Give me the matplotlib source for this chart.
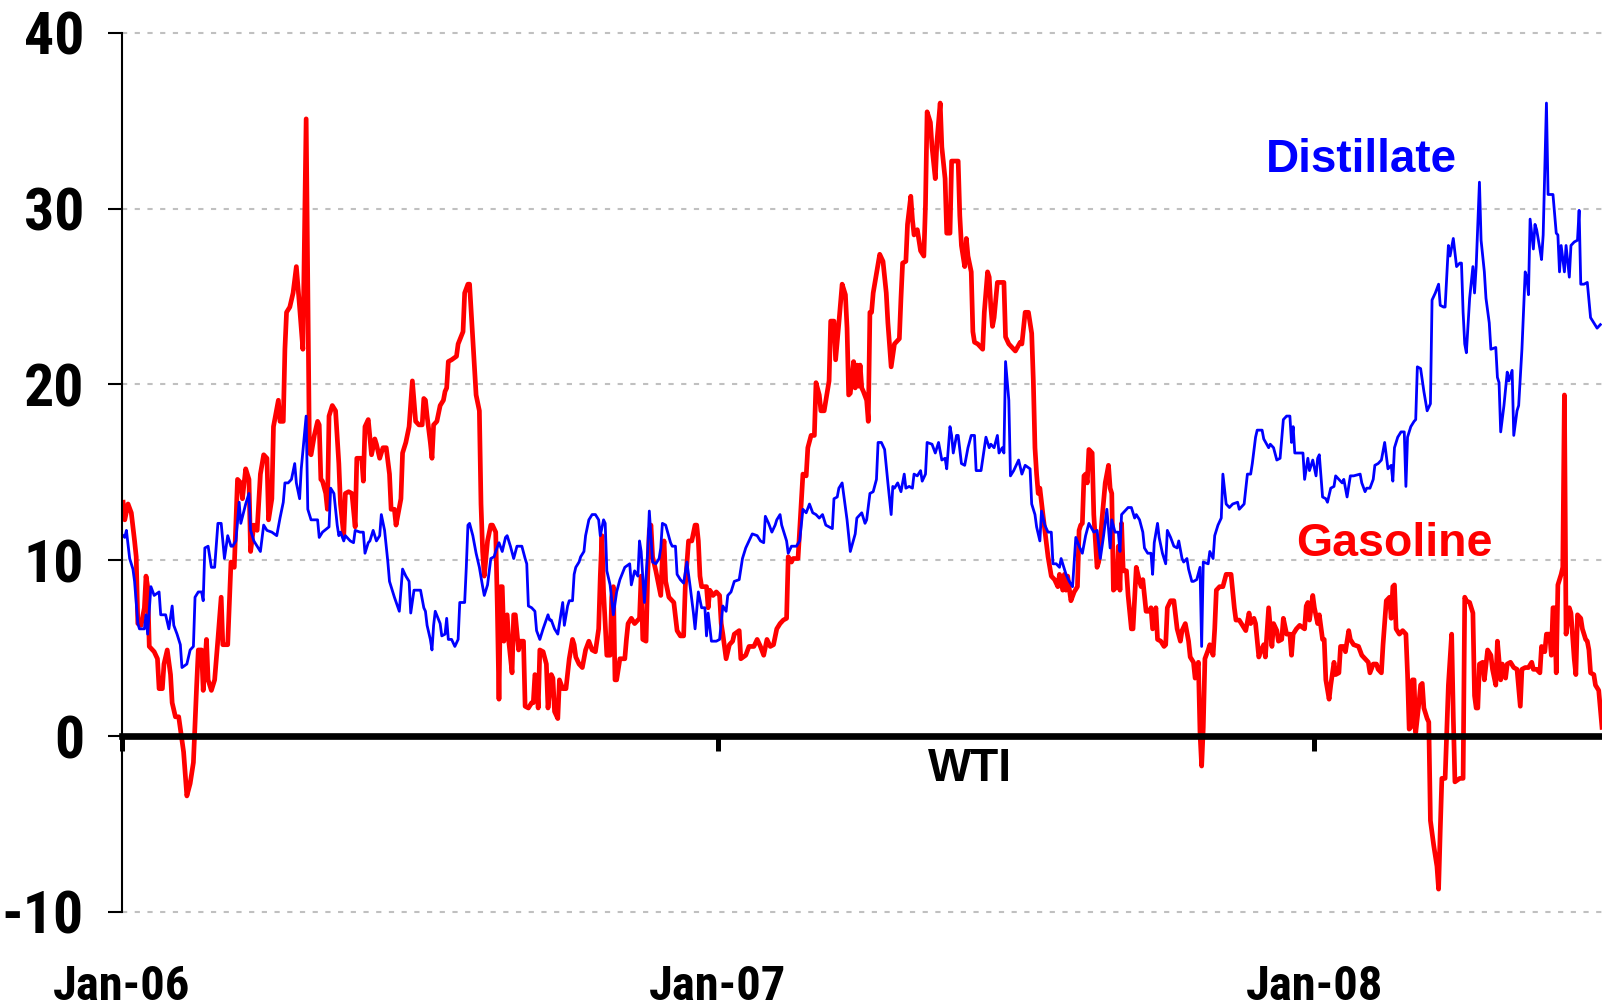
import numpy as np
import pandas as pd
import matplotlib
matplotlib.use('Agg')
import matplotlib.pyplot as plt
from matplotlib import font_manager

START = pd.Timestamp('2006-01-01')
LAST_DAY = 906  # right edge of the plot, days after START

# (days after 1 Jan 2006, spread in $/bbl over WTI)
gasoline = [
    (1, 13.3), (2, 12.3), (4, 13.2), (6, 12.7), (8, 11.1), (9, 10.2), (10, 6.4), (12, 6.3), (14, 7.3), (15, 9.1),
    (16, 8.5), (17, 5.1), (20, 4.8), (22, 4.4), (23, 2.7), (25, 2.7), (26, 4.1), (28, 4.9), (30, 3.5), (31, 1.9),
    (33, 1.1), (35, 1.1), (38, -0.9), (40, -3.4), (42, -2.7), (44, -1.5), (46, 2.9), (47, 4.9), (49, 4.9), (50, 2.6),
    (52, 5.5), (53, 3.2), (55, 2.6), (57, 3.2), (59, 5.5), (61, 7.9), (62, 5.2), (65, 5.2), (67, 9.9), (69, 9.6),
    (71, 14.6), (73, 14.4), (74, 13.5), (76, 15.2), (78, 14.6), (79, 10.5), (81, 12.0), (83, 11.7), (85, 14.9), (87, 16.0),
    (89, 15.8), (90, 12.3), (92, 13.5), (93, 17.6), (96, 19.1), (97, 17.9), (99, 17.9), (100, 22.0), (101, 24.1), (103, 24.4),
    (105, 25.2), (107, 26.7), (109, 24.4), (111, 22.0), (113, 35.1), (115, 16.1), (116, 16.0), (118, 17.1), (120, 17.9), (121, 17.7),
    (122, 14.6), (123, 14.5), (125, 13.8), (126, 12.9), (127, 18.2), (129, 18.8), (131, 18.5), (133, 15.5), (134, 13.2), (136, 11.4),
    (137, 13.8), (139, 13.9), (141, 13.8), (143, 11.9), (144, 15.8), (147, 15.8), (148, 14.5), (149, 17.6), (151, 18.0), (153, 16.0),
    (155, 16.9), (156, 16.6), (158, 15.8), (160, 16.4), (162, 16.4), (164, 14.9), (165, 12.9), (167, 12.9), (168, 12.0), (171, 13.5),
    (172, 16.1), (174, 16.7), (176, 17.6), (178, 20.2), (180, 17.9), (182, 17.7), (184, 17.7), (185, 19.2), (186, 19.1), (187, 18.2),
    (189, 16.7), (190, 15.8), (191, 17.7), (193, 17.9), (195, 18.8), (197, 19.1), (198, 19.6), (199, 19.8), (200, 21.3), (202, 21.4),
    (205, 21.6), (206, 22.3), (209, 23.0), (210, 25.2), (212, 25.7), (213, 25.7), (215, 22.6), (217, 19.4), (219, 18.5), (220, 13.2),
    (221, 10.5), (222, 9.1), (224, 11.1), (226, 12.0), (227, 12.0), (229, 11.6), (230, 7.3), (231, 2.1), (232, 8.5), (233, 8.5),
    (234, 5.4), (236, 6.9), (237, 5.4), (239, 3.6), (240, 6.9), (241, 6.9), (243, 4.9), (244, 5.4), (246, 5.4), (247, 1.7),
    (249, 1.6), (251, 1.9), (252, 1.9), (253, 3.5), (254, 3.3), (255, 1.6), (256, 4.9), (258, 4.8), (260, 4.1), (261, 1.6),
    (263, 3.5), (264, 3.3), (265, 1.4), (267, 1.0), (268, 3.2), (270, 2.7), (272, 2.7), (274, 4.4), (276, 5.5), (277, 5.2),
    (278, 4.5), (280, 4.1), (282, 3.9), (284, 4.9), (286, 5.4), (288, 4.9), (290, 4.8), (292, 6.1), (293, 9.1), (294, 11.4),
    (295, 8.2), (296, 6.4), (297, 4.6), (299, 4.6), (300, 7.9), (301, 8.5), (302, 3.2), (303, 3.2), (305, 4.4), (308, 4.4),
    (309, 5.5), (310, 6.4), (312, 6.7), (314, 6.4), (316, 6.6), (317, 6.7), (318, 9.1), (319, 5.5), (321, 5.4), (322, 9.1),
    (323, 11.7), (324, 12.0), (325, 10.2), (327, 9.4), (330, 8.0), (331, 10.2), (332, 11.1), (333, 8.8), (335, 7.9), (338, 7.6),
    (340, 6.0), (342, 5.7), (344, 5.7), (345, 8.5), (347, 11.1), (349, 11.1), (351, 12.0), (352, 12.0), (353, 11.1), (354, 9.1),
    (355, 8.5), (358, 8.5), (359, 7.3), (360, 8.3), (362, 8.0), (364, 8.2), (366, 8.0), (367, 6.4), (368, 5.8), (370, 4.4),
    (372, 5.2), (374, 5.4), (375, 5.8), (378, 6.0), (379, 4.4), (382, 4.6), (384, 5.1), (387, 5.1), (389, 5.5), (391, 5.1),
    (393, 4.6), (395, 5.5), (397, 5.1), (399, 5.2), (401, 6.1), (403, 6.4), (405, 6.6), (407, 6.7), (408, 10.2), (410, 9.9),
    (411, 10.1), (414, 10.1), (415, 11.7), (417, 14.9), (419, 14.8), (420, 16.4), (422, 17.1), (424, 17.1), (425, 20.1), (427, 19.4),
    (428, 18.5), (430, 18.5), (433, 20.2), (434, 23.6), (436, 23.6), (437, 21.4), (439, 23.5), (441, 25.7), (443, 25.1), (444, 23.2),
    (445, 19.4), (446, 19.5), (448, 21.3), (449, 19.8), (450, 21.1), (451, 19.9), (452, 21.1), (453, 19.8), (454, 19.6), (456, 19.1),
    (457, 17.9), (458, 24.1), (459, 24.1), (460, 25.2), (462, 26.3), (464, 27.4), (466, 27.0), (468, 25.2), (469, 23.5), (471, 21.0),
    (473, 22.3), (476, 22.6), (477, 24.9), (478, 26.9), (480, 27.0), (481, 29.1), (483, 30.7), (484, 29.4), (485, 28.5), (487, 28.8),
    (489, 27.6), (491, 27.3), (492, 30.2), (493, 35.5), (495, 34.9), (496, 33.5), (498, 31.7), (499, 33.8), (501, 36.0), (502, 33.5),
    (504, 31.7), (505, 28.6), (507, 28.6), (508, 32.7), (512, 32.7), (513, 29.6), (514, 27.9), (516, 26.7), (517, 28.3), (518, 27.3),
    (520, 26.4), (521, 23.0), (522, 22.4), (524, 22.3), (527, 22.0), (528, 24.1), (530, 26.4), (531, 26.1), (532, 24.4), (533, 23.3),
    (534, 23.8), (536, 25.8), (540, 25.8), (541, 22.7), (543, 22.3), (545, 22.1), (547, 21.9), (550, 22.4), (551, 22.3), (553, 24.1),
    (555, 24.1), (557, 22.9), (558, 20.2), (559, 16.4), (560, 14.9), (561, 13.8), (562, 14.1), (564, 12.5), (567, 10.2), (569, 9.1),
    (571, 8.9), (573, 8.5), (574, 9.2), (576, 8.3), (577, 9.2), (578, 8.3), (579, 9.1), (581, 7.7), (583, 8.2), (585, 8.5),
    (586, 11.7), (587, 12.0), (588, 12.1), (589, 14.8), (590, 14.9), (591, 14.4), (592, 16.3), (594, 16.1), (595, 12.6), (597, 9.6),
    (598, 9.9), (600, 12.3), (602, 14.4), (604, 15.4), (605, 14.1), (606, 13.8), (607, 8.3), (609, 8.5), (610, 10.8), (611, 8.3),
    (612, 12.1), (613, 9.4), (615, 9.4), (616, 8.0), (618, 6.1), (619, 6.1), (621, 9.6), (623, 8.8), (624, 8.5), (625, 8.9),
    (627, 7.1), (629, 7.1), (630, 7.3), (631, 6.1), (633, 7.3), (634, 5.5), (636, 5.4), (638, 5.1), (639, 5.2), (640, 7.3),
    (642, 7.7), (644, 7.7), (646, 6.1), (648, 5.4), (649, 6.0), (651, 6.4), (653, 5.4), (654, 4.5), (656, 4.2), (657, 3.3),
    (659, 4.2), (660, 0.2), (661, -1.7), (662, 0.5), (663, 4.4), (665, 4.9), (666, 5.2), (668, 4.6), (669, 6.1), (670, 8.3),
    (672, 8.5), (674, 8.5), (676, 9.2), (679, 9.2), (681, 7.3), (682, 6.6), (684, 6.6), (686, 6.3), (688, 6.0), (690, 7.0),
    (691, 6.4), (693, 6.7), (694, 6.4), (696, 4.5), (697, 4.8), (699, 5.2), (700, 4.5), (702, 7.3), (704, 5.1), (705, 6.4),
    (707, 6.0), (708, 5.4), (710, 5.5), (711, 6.7), (713, 5.8), (715, 5.8), (716, 4.6), (717, 5.8), (719, 6.1), (721, 6.3),
    (724, 6.1), (725, 7.4), (726, 7.6), (727, 6.6), (729, 8.0), (730, 7.3), (732, 6.4), (733, 6.9), (735, 5.5), (736, 5.5),
    (737, 3.2), (739, 2.1), (740, 2.9), (742, 4.2), (743, 3.5), (745, 3.6), (746, 5.1), (748, 5.1), (749, 4.8), (751, 6.0),
    (752, 5.5), (754, 5.2), (757, 5.1), (759, 4.6), (761, 4.4), (763, 4.2), (764, 3.6), (766, 4.1), (768, 4.1), (769, 3.8),
    (771, 3.6), (772, 5.2), (774, 7.7), (776, 7.9), (777, 6.7), (778, 8.5), (779, 8.6), (780, 6.1), (782, 5.8), (784, 6.0),
    (786, 5.8), (787, 3.5), (788, 0.4), (789, 0.5), (790, 3.2), (791, 3.2), (792, 0.2), (794, 1.9), (795, 2.9), (796, 3.0),
    (797, 1.6), (799, 1.0), (800, 0.8), (801, -4.8), (803, -6.2), (805, -7.4), (806, -8.7), (807, -5.4), (808, -2.4), (810, -2.4),
    (811, 0.2), (812, 2.9), (814, 5.8), (815, 1.1), (816, -2.6), (819, -2.4), (821, -2.4), (822, 7.9), (823, 7.7), (825, 7.6),
    (827, 7.0), (828, 2.3), (829, 1.6), (830, 1.6), (831, 4.1), (833, 4.2), (834, 3.2), (836, 4.9), (838, 4.6), (839, 3.8),
    (841, 2.9), (842, 5.4), (844, 3.2), (845, 4.1), (847, 3.3), (848, 4.1), (850, 4.2), (852, 3.9), (854, 3.8), (856, 1.7),
    (857, 3.8), (859, 3.9), (861, 3.9), (863, 4.2), (864, 3.8), (866, 3.8), (868, 3.6), (869, 5.1), (871, 4.8), (872, 5.8),
    (874, 5.8), (875, 4.6), (876, 7.3), (877, 7.3), (878, 3.6), (879, 8.6), (880, 8.9), (881, 9.2), (882, 9.6), (883, 19.4),
    (884, 5.8), (886, 7.3), (887, 7.0), (889, 4.4), (890, 3.5), (891, 6.9), (893, 6.7), (894, 6.1), (896, 5.5), (897, 5.4),
    (898, 4.9), (899, 3.6), (901, 3.5), (902, 2.9), (904, 2.6), (906, 0.5),
]

distillate = [
    (1, 11.4), (2, 11.3), (3, 11.7), (5, 10.1), (7, 9.5), (8, 8.8), (10, 6.4), (11, 6.1), (14, 6.1), (15, 6.9),
    (16, 5.8), (18, 8.5), (20, 8.0), (23, 8.2), (24, 6.9), (27, 6.9), (29, 6.1), (31, 7.4), (32, 6.3), (34, 5.8),
    (36, 5.2), (37, 3.9), (40, 4.1), (42, 4.9), (44, 5.1), (45, 7.9), (47, 8.2), (49, 8.2), (50, 7.7), (51, 10.7),
    (53, 10.8), (55, 9.6), (57, 9.6), (59, 12.1), (61, 12.1), (62, 11.1), (63, 10.1), (65, 11.4), (67, 10.8), (68, 10.8),
    (70, 11.1), (72, 13.3), (73, 12.1), (76, 13.2), (78, 13.8), (79, 11.7), (81, 11.1), (83, 10.8), (85, 10.5), (87, 12.0),
    (89, 11.7), (92, 11.6), (95, 11.4), (97, 12.4), (99, 13.3), (100, 14.4), (102, 14.4), (104, 14.6), (106, 15.5), (107, 14.4),
    (109, 13.5), (110, 15.2), (113, 18.2), (114, 12.9), (116, 12.3), (120, 12.3), (121, 11.3), (123, 11.6), (127, 11.9), (128, 14.1),
    (130, 13.8), (132, 12.0), (133, 11.4), (134, 11.6), (136, 11.1), (137, 11.4), (140, 11.1), (142, 11.0), (143, 11.7), (146, 11.6),
    (148, 11.6), (149, 10.4), (151, 11.0), (152, 11.1), (154, 11.7), (156, 11.1), (158, 11.4), (159, 12.6), (161, 11.7), (162, 10.8),
    (163, 9.9), (164, 8.8), (167, 7.9), (170, 7.1), (172, 9.5), (174, 9.1), (176, 8.8), (177, 7.0), (179, 8.3), (183, 8.3),
    (185, 7.3), (186, 7.1), (187, 6.3), (189, 5.5), (190, 4.9), (191, 6.3), (192, 7.1), (195, 6.4), (196, 5.7), (198, 5.8),
    (199, 6.7), (200, 5.5), (202, 5.5), (204, 5.1), (206, 5.5), (207, 7.6), (210, 7.6), (211, 9.6), (212, 12.0), (213, 12.1),
    (215, 11.4), (217, 10.4), (219, 9.6), (221, 8.5), (222, 8.0), (224, 8.6), (226, 10.1), (228, 10.2), (229, 10.5), (231, 11.0),
    (233, 10.5), (235, 11.3), (236, 11.4), (238, 10.8), (240, 10.1), (242, 10.8), (245, 10.8), (247, 10.1), (248, 9.8), (249, 7.4),
    (251, 7.3), (253, 7.1), (254, 6.0), (256, 5.5), (258, 6.1), (261, 6.9), (262, 6.6), (263, 6.6), (265, 6.1), (267, 5.8),
    (269, 7.0), (270, 7.6), (271, 6.3), (273, 7.4), (274, 7.7), (276, 7.7), (277, 9.2), (278, 9.6), (280, 9.9), (281, 10.2),
    (283, 10.5), (284, 11.4), (286, 12.3), (288, 12.6), (290, 12.6), (292, 12.3), (293, 11.4), (295, 12.3), (296, 12.1), (297, 9.4),
    (299, 8.6), (301, 6.9), (303, 8.2), (305, 8.9), (308, 9.6), (311, 9.8), (312, 8.6), (314, 9.4), (316, 9.1), (317, 11.1),
    (318, 10.5), (320, 7.6), (322, 10.5), (323, 12.8), (325, 9.9), (327, 9.8), (329, 10.1), (330, 10.7), (331, 12.1), (333, 12.0),
    (336, 11.0), (337, 10.8), (339, 10.8), (340, 9.2), (342, 8.9), (344, 8.7), (346, 9.9), (348, 8.5), (350, 7.0), (351, 6.1),
    (353, 8.2), (355, 7.3), (357, 7.3), (358, 5.7), (359, 7.0), (361, 5.4), (364, 5.4), (366, 5.5), (368, 7.4), (370, 7.1),
    (371, 8.0), (373, 8.2), (375, 8.8), (378, 8.9), (380, 10.1), (382, 10.7), (384, 11.1), (386, 11.5), (389, 11.4), (391, 11.1),
    (393, 11.0), (394, 12.5), (396, 12.1), (398, 11.6), (400, 12.0), (401, 12.3), (403, 12.6), (404, 12.0), (407, 11.1), (408, 10.4),
    (410, 10.8), (413, 10.8), (415, 11.1), (417, 12.9), (419, 12.7), (421, 13.2), (423, 12.7), (425, 12.6), (427, 12.4), (429, 12.6),
    (431, 12.0), (433, 11.9), (435, 11.8), (436, 13.5), (438, 13.6), (439, 14.1), (441, 14.4), (444, 12.3), (446, 10.5), (449, 11.5),
    (450, 12.4), (453, 12.7), (455, 12.1), (456, 12.3), (458, 13.8), (460, 13.9), (462, 14.6), (463, 16.7), (465, 16.7), (467, 16.3),
    (469, 14.4), (471, 12.6), (472, 14.2), (473, 14.1), (475, 14.4), (477, 13.9), (479, 14.9), (480, 14.1), (482, 14.2), (484, 14.1),
    (485, 14.9), (487, 14.8), (489, 15.1), (490, 14.5), (492, 14.9), (493, 16.7), (496, 16.6), (498, 16.1), (500, 16.7), (502, 15.7),
    (504, 15.8), (505, 15.2), (507, 17.6), (508, 17.1), (509, 16.1), (511, 17.1), (512, 17.1), (514, 15.5), (516, 15.4), (518, 16.4),
    (520, 17.1), (522, 17.1), (523, 15.1), (526, 15.1), (529, 17.0), (531, 16.4), (532, 16.6), (534, 16.4), (536, 17.1), (537, 16.1),
    (539, 16.4), (540, 16.1), (541, 21.3), (543, 19.1), (544, 14.8), (546, 15.1), (548, 15.5), (549, 15.7), (551, 14.9), (553, 15.4),
    (556, 15.2), (557, 13.2), (559, 12.6), (560, 11.9), (562, 11.1), (563, 12.8), (565, 12.0), (567, 11.6), (569, 11.6), (570, 9.8),
    (572, 9.8), (574, 9.6), (575, 10.1), (577, 9.5), (578, 9.2), (580, 8.8), (582, 8.5), (584, 11.3), (586, 10.8), (588, 10.4),
    (590, 11.4), (592, 12.1), (595, 11.6), (597, 11.7), (599, 10.1), (601, 11.4), (603, 12.9), (605, 10.7), (606, 12.3), (608, 11.6),
    (610, 11.6), (611, 10.5), (612, 12.6), (614, 12.8), (616, 13.0), (618, 13.0), (620, 12.4), (621, 12.6), (623, 12.3), (625, 11.6),
    (626, 10.7), (628, 10.4), (630, 10.4), (631, 9.2), (632, 11.0), (634, 12.1), (635, 11.3), (637, 10.4), (639, 9.8), (640, 11.7),
    (642, 11.3), (644, 10.8), (646, 10.7), (647, 11.1), (649, 10.1), (650, 9.9), (652, 10.1), (653, 9.5), (655, 8.8), (656, 8.8),
    (658, 8.9), (660, 9.6), (661, 5.1), (662, 9.9), (665, 9.8), (666, 10.5), (668, 10.1), (669, 11.4), (671, 12.0), (673, 12.4),
    (674, 14.9), (676, 13.2), (678, 13.0), (680, 13.2), (683, 13.3), (684, 12.9), (687, 13.2), (689, 14.9), (691, 14.9), (692, 15.5),
    (694, 17.0), (695, 17.4), (698, 17.4), (699, 16.9), (702, 16.4), (703, 16.6), (705, 16.4), (707, 15.7), (709, 15.8), (711, 18.0),
    (713, 18.2), (715, 18.2), (716, 16.7), (717, 17.6), (718, 16.1), (720, 16.1), (723, 16.1), (724, 14.6), (726, 15.8), (727, 15.1),
    (729, 15.7), (731, 14.8), (732, 15.8), (733, 16.0), (735, 13.6), (737, 13.5), (738, 13.3), (740, 14.1), (742, 14.2), (743, 14.8),
    (745, 14.6), (747, 14.4), (748, 14.6), (750, 13.6), (752, 14.8), (754, 14.8), (758, 14.9), (759, 14.4), (761, 13.9), (762, 14.1),
    (764, 14.1), (766, 14.6), (767, 15.4), (769, 15.5), (771, 15.7), (773, 16.7), (775, 15.2), (777, 15.4), (778, 14.5), (779, 16.4),
    (781, 17.0), (783, 17.3), (785, 17.3), (786, 14.2), (787, 17.0), (789, 17.6), (791, 17.9), (792, 18.0), (793, 21.0), (795, 20.9),
    (797, 19.6), (799, 18.5), (801, 18.9), (802, 24.8), (804, 25.2), (806, 25.7), (807, 24.5), (809, 24.4), (810, 24.4), (812, 27.9),
    (813, 27.3), (815, 28.3), (817, 26.7), (819, 26.9), (820, 26.9), (821, 24.1), (822, 22.3), (823, 21.8), (825, 24.9), (827, 26.7),
    (828, 25.2), (829, 26.7), (830, 29.1), (831, 31.5), (832, 28.2), (834, 26.4), (835, 24.9), (837, 23.5), (838, 22.0), (841, 22.1),
    (842, 20.4), (843, 20.1), (844, 17.3), (846, 18.8), (848, 20.7), (849, 20.2), (851, 20.8), (852, 17.1), (854, 18.5), (855, 18.8),
    (857, 22.0), (859, 26.4), (860, 26.1), (861, 25.1), (862, 29.4), (864, 27.7), (865, 29.1), (866, 28.8), (868, 27.7), (869, 27.1),
    (870, 28.5), (872, 36.0), (873, 30.8), (876, 30.8), (878, 28.6), (879, 28.5), (880, 26.4), (881, 27.9), (883, 26.4), (884, 27.9),
    (886, 26.1), (887, 27.9), (889, 28.1), (891, 28.2), (892, 29.9), (893, 25.7), (895, 25.7), (897, 25.8), (899, 23.8), (901, 23.5),
    (903, 23.2), (905, 23.4),
]

y_ticks = [-10, 0, 10, 20, 30, 40]
y_tick_labels = ['-10', '0', '10', '20', '30', '40']
x_ticks = ['2006-01-01', '2007-01-01', '2008-01-01']
x_tick_labels = ['Jan-06', 'Jan-07', 'Jan-08']


def to_series(pairs):
    days = np.array([p[0] for p in pairs], dtype=float)
    vals = np.array([p[1] for p in pairs])
    return START + pd.to_timedelta(days, unit='D'), vals


def day(n):
    return START + pd.Timedelta(days=n)


def narrow_font():
    # the axis labels use a narrow bold face; take one if the system has it
    fonts = font_manager.fontManager.ttflist
    names = {f.name for f in fonts}
    for cand in ['Liberation Sans Narrow', 'Arial Narrow', 'Roboto Condensed', 'Open Sans Condensed',
                 'Noto Sans Condensed', 'DejaVu Sans Condensed', 'Noto Sans SemiCondensed']:
        if cand in names:
            return {'fontfamily': cand}
    for f in fonts:
        if f.stretch in ('condensed', 'semi-condensed') and 'Sans' in f.name \
                and 'CJK' not in f.name and 'Mono' not in f.name:
            return {'fontfamily': f.name, 'fontstretch': f.stretch}
    return None


plt.rcParams['font.family'] = ['Liberation Sans', 'DejaVu Sans']

nf = narrow_font()
if nf:
    ylab_font = dict(nf, fontsize=43, fontweight='bold')
    xlab_font = dict(nf, fontsize=35, fontweight='bold')
else:
    ylab_font = dict(fontfamily='Liberation Sans', fontsize=37, fontweight='bold')
    xlab_font = dict(fontfamily='Liberation Sans', fontsize=33, fontweight='bold')

fig = plt.figure(figsize=(16.02, 10.08), dpi=100)
ax = fig.add_axes([121.5 / 1602, 1 - 912 / 1008, 1 - 121.5 / 1602, (912 - 32.7) / 1008])

# dashed grid, the zero line is the axis itself
for y in y_ticks:
    if y != 0:
        ax.axhline(y, color='#c0c0c0', lw=1.5, ls=(0, (2.5, 3.6)), zorder=0, clip_on=False)

gx, gy = to_series(gasoline)
dx, dy = to_series(distillate)
ax.plot(gx, gy, color='#ff0000', lw=3.4, zorder=2)
ax.plot(dx, dy, color='#0000ff', lw=2.0, zorder=2.1)

ax.set_xlim(START, day(LAST_DAY))
ax.set_ylim(-10, 40)

ax.spines['top'].set_visible(False)
ax.spines['right'].set_visible(False)
ax.spines['left'].set_linewidth(1.5)
ax.spines['bottom'].set_position(('data', 0))
ax.spines['bottom'].set_linewidth(4.8)
ax.spines['bottom'].set_zorder(3)

ax.set_yticks(y_ticks)
ax.set_yticklabels(y_tick_labels, **ylab_font)
ax.tick_params(axis='y', direction='out', length=10, width=1.5, pad=17)

ax.set_xticks(pd.to_datetime(x_ticks))
ax.set_xticklabels(x_tick_labels, **xlab_font)
ax.tick_params(axis='x', direction='out', length=11, width=3.6, pad=153)

ax.text(day(759), 32.1, 'Distillate', color='#0000ff', fontsize=33, fontweight='bold',
        ha='center', va='baseline')
ax.text(day(779), 10.25, 'Gasoline', color='#ff0000', fontsize=33.5, fontweight='bold',
        ha='center', va='baseline')
ax.text(day(519), -2.56, 'WTI', color='black', fontsize=33, fontweight='bold',
        ha='center', va='baseline')

fig.savefig('out.png', dpi=100)
